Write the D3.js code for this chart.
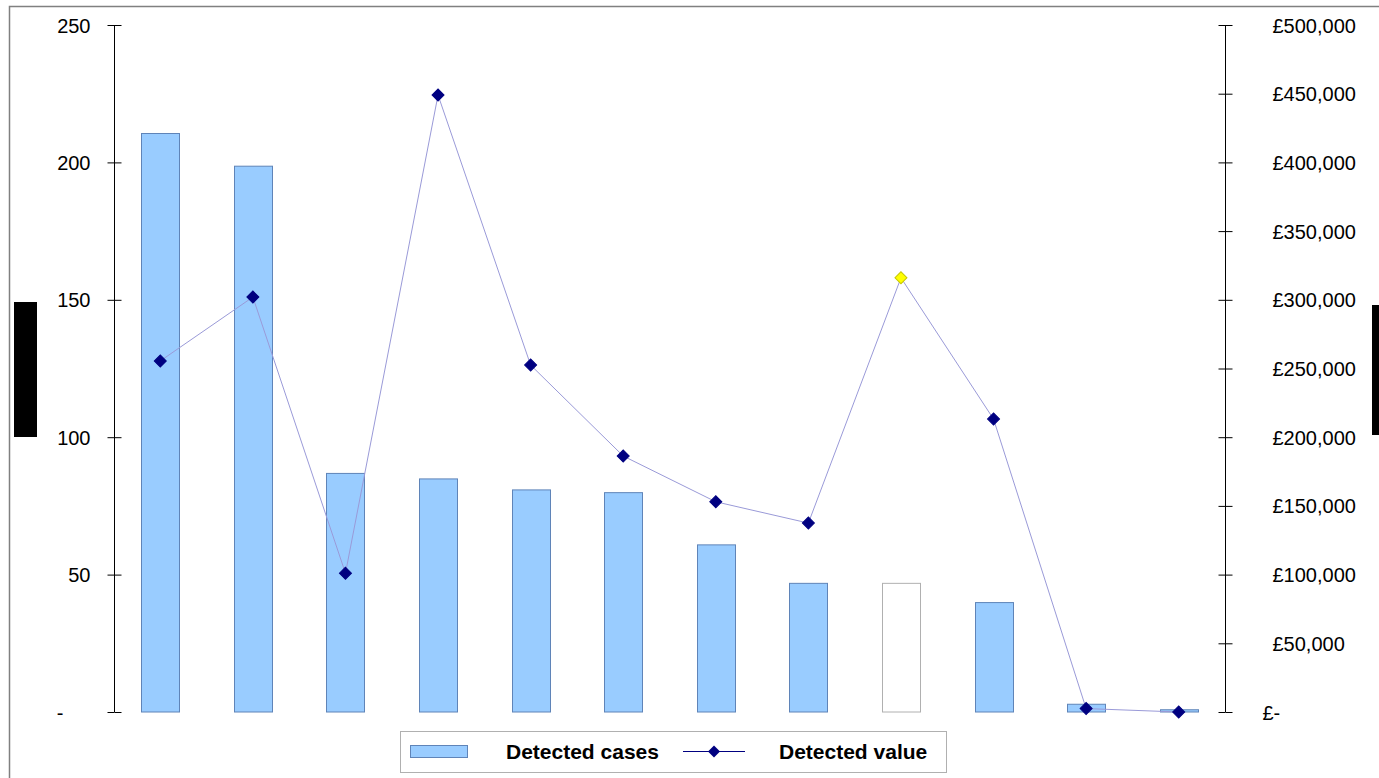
<!DOCTYPE html>
<html><head><meta charset="utf-8">
<script src="https://cdn.jsdelivr.net/npm/d3@7"></script>
<style>
html,body{margin:0;padding:0;background:#fff;}
svg{display:block;font-family:"Liberation Sans",Arial,sans-serif;}
</style></head>
<body>
<svg id="chart" width="1379" height="778"></svg>
<script>
const categories = ["C1","C2","C3","C4","C5","C6","C7","C8","C9","C10","C11","C12"];
const detectedCases = [210.7, 198.8, 87, 85, 81, 80, 61, 47, 47, 40, 3, 1];
const detectedValue = [255500, 302000, 101000, 449000, 252500, 186300, 153000, 137500, 316000, 213200, 2500, 0];
const leftTicks = [0, 50, 100, 150, 200, 250];
const rightTicks = [0, 50000, 100000, 150000, 200000, 250000, 300000, 350000, 400000, 450000, 500000];
const highlightIndex = 8; // white bar, yellow marker
const seriesNames = ["Detected cases", "Detected value"];

(function(){
const svg = d3.select("#chart");
const pLeft = 114, pRight = 1225, pTop = 25, pBottom = 712;

// outer border
svg.append("rect").attr("x",9.5).attr("y",6.5).attr("width",1400).attr("height",800)
  .attr("fill","none").attr("stroke","#808080").attr("stroke-width",1.5);

const x = d3.scaleBand().domain(categories).range([pLeft, pRight]).paddingInner(0.59).paddingOuter(0.295);
const yL = d3.scaleLinear().domain([0, 250]).range([pBottom, pTop]);
const yR = d3.scaleLinear().domain([0, 500000]).range([pBottom, pTop]);

// bars
svg.append("g").selectAll("rect").data(detectedCases).join("rect")
  .attr("x",(d,i)=>Math.round(x(categories[i]))+0.5)
  .attr("y",d=>yL(d)+0.5)
  .attr("width",Math.round(x.bandwidth()))
  .attr("height",d=>Math.max(0,pBottom-yL(d)-0.5))
  .attr("fill",(d,i)=> i===highlightIndex ? "#ffffff" : "#99ccff")
  .attr("stroke",(d,i)=> i===highlightIndex ? "#b0b0b0" : "#5f84b8")
  .attr("stroke-width",1);

// left axis
const axL = d3.axisLeft(yL).tickValues(leftTicks).tickSize(7).tickPadding(17)
  .tickFormat(d => d===0 ? "-" : d3.format("d")(d));
const gL = svg.append("g").attr("transform",`translate(${pLeft+0.5},0)`).call(axL);
gL.select(".domain").attr("stroke","#000").attr("d",`M0,${pTop}V${pBottom}`);
gL.selectAll(".tick line").attr("stroke","#000");
gL.selectAll(".tick").append("line").attr("x2",7).attr("stroke","#000");
gL.selectAll(".tick text").attr("font-size",20).attr("fill","#000").attr("dy","0.35em")
  .attr("font-family","'Liberation Sans',Arial,sans-serif")
  .attr("dx",d=> d===0 ? -27 : 0);

// right axis
const axR = d3.axisRight(yR).tickValues(rightTicks).tickSize(7).tickPadding(40)
  .tickFormat(d => d===0 ? "£-" : "£" + d3.format(",")(d));
const gR = svg.append("g").attr("transform",`translate(${pRight+0.5},0)`).call(axR);
gR.select(".domain").attr("stroke","#000").attr("d",`M0,${pTop}V${pBottom}`);
gR.selectAll(".tick line").attr("stroke","#000");
gR.selectAll(".tick").append("line").attr("x2",-7).attr("stroke","#000");
gR.selectAll(".tick text").attr("font-size",20).attr("fill","#000").attr("dy","0.35em")
  .attr("font-family","'Liberation Sans',Arial,sans-serif")
  .attr("dx",d=> d===0 ? -10 : 0);

// line
const cx = i => x(categories[i]) + x.bandwidth()/2;
const line = d3.line().x((d,i)=>cx(i)).y(d=>yR(d));
svg.append("path").datum(detectedValue).attr("d",line)
  .attr("fill","none").attr("stroke","#9a9ad8").attr("stroke-width",1);
const diamond = d3.symbol().type(d3.symbolSquare).size(72);
svg.append("g").selectAll("path").data(detectedValue).join("path")
  .attr("d",diamond())
  .attr("transform",(d,i)=>`translate(${cx(i)},${yR(d)}) rotate(45)`)
  .attr("fill",(d,i)=> i===highlightIndex ? "#ffff00" : "#000080")
  .attr("stroke",(d,i)=> i===highlightIndex ? "#c8c800" : "#000080")
  .attr("stroke-width",1);

// black side rectangles
svg.append("rect").attr("x",14).attr("y",302).attr("width",23).attr("height",135).attr("fill","#000");
svg.append("rect").attr("x",1372).attr("y",305).attr("width",7).attr("height",130).attr("fill","#000");

// legend
const lg = svg.append("g");
lg.append("rect").attr("x",400.5).attr("y",731.5).attr("width",546).attr("height",41)
  .attr("fill","#fff").attr("stroke","#b0b0b0").attr("stroke-width",1);
lg.append("rect").attr("x",410.5).attr("y",745.5).attr("width",57).attr("height",12)
  .attr("fill","#99ccff").attr("stroke","#5f84b8");
lg.append("text").attr("x",506).attr("y",752).attr("dy","0.35em").attr("font-size",21)
  .attr("font-weight","bold").text(seriesNames[0]);
lg.append("line").attr("x1",683).attr("x2",745).attr("y1",751.5).attr("y2",751.5)
  .attr("stroke","#000080").attr("stroke-width",1);
lg.append("path").attr("d",diamond()).attr("transform","translate(714,751.5) rotate(45)")
  .attr("fill","#000080");
lg.append("text").attr("x",779).attr("y",752).attr("dy","0.35em").attr("font-size",21)
  .attr("font-weight","bold").text(seriesNames[1]);
})();
</script>
</body></html>
